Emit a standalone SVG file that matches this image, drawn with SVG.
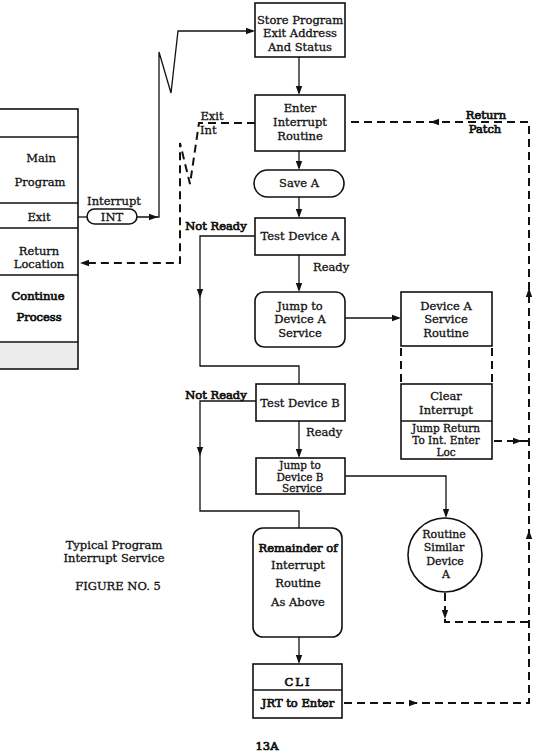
<svg xmlns="http://www.w3.org/2000/svg" width="553" height="754" viewBox="0 0 553 754">
<style>
text{font-family:"DejaVu Serif","Liberation Serif",serif;font-size:11.5px;fill:#111;stroke:#111;stroke-width:0.3;text-anchor:middle}
.b{stroke-width:0.7}
.s{font-size:10.5px}
.c{font-size:11px}
.l{text-anchor:start}
.box{fill:#fff;stroke:#111;stroke-width:1.6}
.ln{fill:none;stroke:#111;stroke-width:1.3}
.dl{fill:none;stroke:#111;stroke-width:2;stroke-dasharray:8 5}
</style>
<defs>
<path id="arr" d="M0,0 L-9,-3.2 L-9,3.2 Z" fill="#111"/>
</defs>
<g id="main-program">
<rect x="-2" y="109" width="80" height="260" class="box"/>
<rect x="-1" y="343" width="78" height="25" fill="#ececec"/>
<path class="ln" d="M-2,137 H78 M-2,203 H78 M-2,228 H78 M-2,275 H78 M-2,342 H78" stroke-width="1.6"/>
<text x="41" y="162">Main</text>
<text x="40" y="186">Program</text>
<text x="39" y="221">Exit</text>
<text x="39" y="255">Return</text>
<text x="39" y="268">Location</text>
<text x="38" y="300" class="b">Continue</text>
<text x="39" y="321" class="b">Process</text>
</g>
<g id="int">
<rect x="87" y="209" width="50" height="15" rx="7.5" class="box"/>
<text x="112" y="221">INT</text>
<text x="114" y="205">Interrupt</text>
</g>
<g id="store">
<rect x="255" y="3" width="90" height="54" class="box"/>
<text x="300" y="24">Store Program</text>
<text x="300" y="37">Exit Address</text>
<text x="300" y="51">And Status</text>
</g>
<g id="enter">
<rect x="255" y="95" width="90" height="56" class="box"/>
<text x="300" y="112">Enter</text>
<text x="300" y="126">Interrupt</text>
<text x="300" y="140">Routine</text>
</g>
<g id="save-a">
<rect x="254" y="170" width="90" height="27" rx="13.5" class="box"/>
<text x="299" y="187">Save A</text>
</g>
<g id="test-a">
<rect x="255" y="218" width="90" height="37" class="box"/>
<text x="300" y="240">Test Device A</text>
</g>
<g id="jump-a">
<rect x="255" y="292" width="90" height="55" rx="9" class="box"/>
<text x="300" y="310">Jump to</text>
<text x="300" y="323">Device A</text>
<text x="300" y="337">Service</text>
</g>
<g id="device-a">
<rect x="401" y="292" width="91" height="54" class="box"/>
<text x="446" y="310">Device A</text>
<text x="446" y="323">Service</text>
<text x="446" y="337">Routine</text>
</g>
<g id="clear">
<rect x="401" y="384" width="91" height="75" class="box"/>
<path class="ln" d="M401,421 H492" stroke-width="1.6"/>
<text x="446" y="400">Clear</text>
<text x="446" y="414">Interrupt</text>
<text x="446" y="432" class="s">Jump Return</text>
<text x="446" y="444" class="s">To Int. Enter</text>
<text x="446" y="456" class="s">Loc</text>
</g>
<g id="test-b">
<rect x="256" y="384" width="89" height="37" class="box"/>
<text x="300" y="407">Test Device B</text>
</g>
<g id="jump-b">
<rect x="256" y="458" width="89" height="36" class="box"/>
<text x="300" y="469" class="s">Jump to</text>
<text x="300" y="481" class="s">Device  B</text>
<text x="302" y="492" class="s">Service</text>
</g>
<g id="similar">
<circle cx="445" cy="555" r="37" class="box"/>
<text x="444" y="538" class="c">Routine</text>
<text x="444" y="551" class="c">Similar</text>
<text x="445" y="565" class="c">Device</text>
<text x="446" y="578" class="c">A</text>
</g>
<g id="remainder">
<rect x="253" y="528" width="89" height="109" rx="10" class="box"/>
<text x="298" y="552" class="b">Remainder of</text>
<text x="298" y="569">Interrupt</text>
<text x="298" y="587">Routine</text>
<text x="298" y="606">As  Above</text>
</g>
<g id="cli">
<rect x="253" y="664" width="89" height="54" class="box"/>
<path class="ln" d="M253,690 H342" stroke-width="1.6"/>
<text x="298" y="686" class="b" letter-spacing="2">CLI</text>
<text x="298" y="707" class="b">JRT to Enter</text>
</g>
<g id="connectors">
<path class="ln" d="M78,217 H87"/>
<path class="ln" d="M137,217 H159 V52 L171,93 L178,31 H253"/>
<use href="#arr" transform="translate(158,217)"/>
<use href="#arr" transform="translate(255,31)"/>
<path class="dl" d="M255,123 H199 L190,184 L180,143 V263 H84" stroke-width="1.6"/>
<use href="#arr" transform="translate(80,263) rotate(180)"/>
<path class="ln" d="M299,57 V93"/><use href="#arr" transform="translate(299,95) rotate(90)"/>
<path class="ln" d="M299,151 V168"/><use href="#arr" transform="translate(299,170) rotate(90)"/>
<path class="ln" d="M299,197 V216"/><use href="#arr" transform="translate(299,218) rotate(90)"/>
<path class="ln" d="M299,255 V290"/><use href="#arr" transform="translate(299,292) rotate(90)"/>
<path class="ln" d="M255,236 H200 V366 H299 V384"/><use href="#arr" transform="translate(200,298) rotate(90)"/>
<path class="ln" d="M345,318 H399"/><use href="#arr" transform="translate(401,318)"/>
<path class="dl" d="M401,348 V384 M492,348 V384" stroke-width="1.5"/>
<path class="ln" d="M299,421 V456"/><use href="#arr" transform="translate(299,458) rotate(90)"/>
<path class="ln" d="M256,401 H200 V511 H299 V528"/><use href="#arr" transform="translate(200,456) rotate(90)"/>
<path class="ln" d="M345,476 H446 V516"/><use href="#arr" transform="translate(446,518) rotate(90)"/>
<path class="ln" d="M299,637 V662"/><use href="#arr" transform="translate(299,664) rotate(90)"/>
<path class="dl" d="M494,441 H529"/><use href="#arr" transform="translate(522,441)"/>
<path class="dl" d="M445,593 V622 H529"/><use href="#arr" transform="translate(445,619) rotate(90)"/>
<path class="dl" d="M344,703 H529 V122 H346"/>
<use href="#arr" transform="translate(418,703)"/>
<use href="#arr" transform="translate(529,530) rotate(-90)"/>
<use href="#arr" transform="translate(529,288) rotate(-90)"/>
<use href="#arr" transform="translate(430,122) rotate(180)"/>
</g>
<g id="labels">
<text x="212" y="120">Exit</text>
<text x="200" y="134" class="l">Int</text>
<text x="486" y="119" class="b">Return</text>
<text x="485" y="133" class="b">Patch</text>
<text x="216" y="230" class="b">Not Ready</text>
<text x="313" y="271" class="l">Ready</text>
<text x="216" y="399" class="b">Not Ready</text>
<text x="306" y="436" class="l">Ready</text>
<text x="114" y="549">Typical Program</text>
<text x="114" y="562">Interrupt  Service</text>
<text x="118" y="590">FIGURE NO. 5</text>
<text x="267" y="750" class="b">13A</text>
</g>
</svg>
